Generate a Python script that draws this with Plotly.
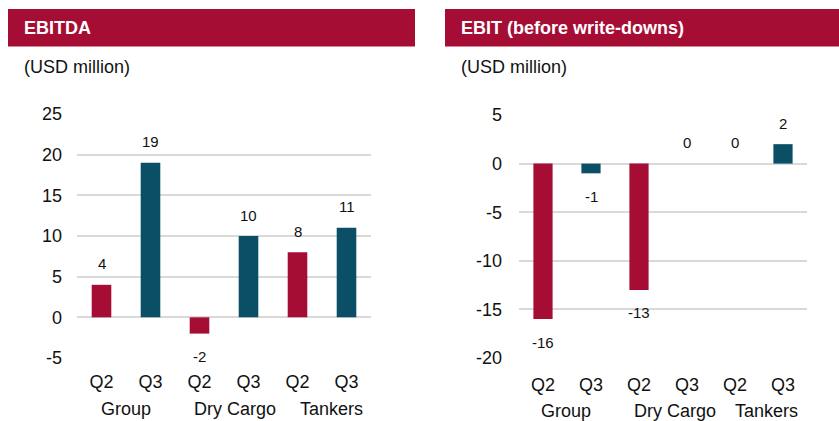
import plotly.graph_objects as go

# ---- data ----
quarters = ["Q2", "Q3", "Q2", "Q3", "Q2", "Q3"]
segments = ["Group", "Dry Cargo", "Tankers"]
ebitda = [4, 19, -2, 10, 8, 11]
ebit = [-16, -1, -13, 0, 0, 2]
ebitda_ticks = [-5, 0, 5, 10, 15, 20, 25]
ebit_ticks = [-20, -15, -10, -5, 0, 5]

RED = "#A50D35"
TEAL = "#0B4F66"
GRID = "#D9D9D9"
FONT = "Liberation Sans, Arial, sans-serif"
W, H = 839, 421

def px_x(p):
    return p / W

def px_y(p):
    return 1 - p / H

positions = list(range(len(quarters)))
colors = [RED if q == "Q2" else TEAL for q in quarters]

fig = go.Figure()
fig.add_trace(go.Bar(x=positions, y=ebitda, marker=dict(color=colors, line=dict(width=0)),
                     width=0.4, xaxis="x", yaxis="y", hoverinfo="y"))
fig.add_trace(go.Bar(x=positions, y=ebit, marker=dict(color=colors, line=dict(width=0)),
                     width=0.4, xaxis="x2", yaxis="y2", hoverinfo="y"))

annotations = []
# data labels
for xr, yr, vals in (("x", "y", ebitda), ("x2", "y2", ebit)):
    for i, v in enumerate(vals):
        annotations.append(dict(x=i, y=v, xref=xr, yref=yr, text=str(v), showarrow=False,
                                yshift=(-23 if v < 0 else 21), font=dict(size=15, color="#111111", family=FONT)))
# segment labels
seg_shift_left = [0, 11, 9]
seg_shift_right = [-1, 12, 7]
for k, s in enumerate(segments):
    annotations.append(dict(x=2 * k + 0.5, y=px_y(409), xref="x", yref="paper", text=s, showarrow=False,
                            xshift=seg_shift_left[k], yanchor="middle",
                            font=dict(size=18, color="#111111", family=FONT)))
    annotations.append(dict(x=2 * k + 0.5, y=px_y(410.5), xref="x2", yref="paper", text=s, showarrow=False,
                            xshift=seg_shift_right[k], yanchor="middle",
                            font=dict(size=18, color="#111111", family=FONT)))
# headers
annotations.append(dict(x=px_x(22), y=px_y(28), xref="paper", yref="paper", xanchor="left", yanchor="middle",
                        text="<b>EBITDA</b>", showarrow=False, font=dict(size=18, color="white", family=FONT)))
annotations.append(dict(x=px_x(459), y=px_y(28), xref="paper", yref="paper", xanchor="left", yanchor="middle",
                        text="<b>EBIT (before write-downs)</b>", showarrow=False,
                        font=dict(size=18, color="white", family=FONT)))
annotations.append(dict(x=px_x(22), y=px_y(67), xref="paper", yref="paper", xanchor="left", yanchor="middle",
                        text="(USD million)", showarrow=False, font=dict(size=18, color="#111111", family=FONT)))
annotations.append(dict(x=px_x(459), y=px_y(67), xref="paper", yref="paper", xanchor="left", yanchor="middle",
                        text="(USD million)", showarrow=False, font=dict(size=18, color="#111111", family=FONT)))

shapes = [
    dict(type="rect", xref="paper", yref="paper", x0=px_x(8), x1=px_x(415), y0=px_y(46.5), y1=px_y(9),
         fillcolor=RED, line=dict(width=0), layer="below"),
    dict(type="rect", xref="paper", yref="paper", x0=px_x(445), x1=1.0, y0=px_y(46.5), y1=px_y(9),
         fillcolor=RED, line=dict(width=0), layer="below"),
]

xaxis_common = dict(tickmode="array", tickvals=positions, ticktext=quarters, range=[-0.5, 5.5],
                    showgrid=False, zeroline=False, showline=False, ticks="outside",
                    tickcolor="rgba(0,0,0,0)", tickfont=dict(size=18, color="#111111", family=FONT),
                    fixedrange=True, automargin=False)
yaxis_common = dict(showgrid=True, gridcolor=GRID, gridwidth=2, zeroline=False, showline=False,
                    tickfont=dict(size=18, color="#111111", family=FONT), ticks="",
                    tickmode="array", fixedrange=True, automargin=False)

fig.update_layout(
    width=W, height=H, margin=dict(l=0, r=0, t=0, b=0, pad=0), autosize=False,
    paper_bgcolor="white", plot_bgcolor="white", showlegend=False,
    font=dict(family=FONT, color="#111111"),
    xaxis=dict(domain=[px_x(77), px_x(371)], anchor="y", ticklen=7, **xaxis_common),
    yaxis=dict(domain=[px_y(358), px_y(114)], anchor="x", range=[-5, 25], tickvals=ebitda_ticks,
               ticktext=[str(t) for t in ebitda_ticks], ticklabelstandoff=14, **yaxis_common),
    xaxis2=dict(domain=[px_x(519), px_x(807)], anchor="y2", ticklen=10, **xaxis_common),
    yaxis2=dict(domain=[px_y(358), px_y(115)], anchor="x2", range=[-20, 5], tickvals=ebit_ticks,
                ticktext=[str(t) for t in ebit_ticks], ticklabelstandoff=16, **yaxis_common),
    annotations=annotations, shapes=shapes,
)

fig.write_html("out.html", config={"displayModeBar": False},
               post_script="document.body.style.margin='0px';document.body.style.overflow='hidden';")
